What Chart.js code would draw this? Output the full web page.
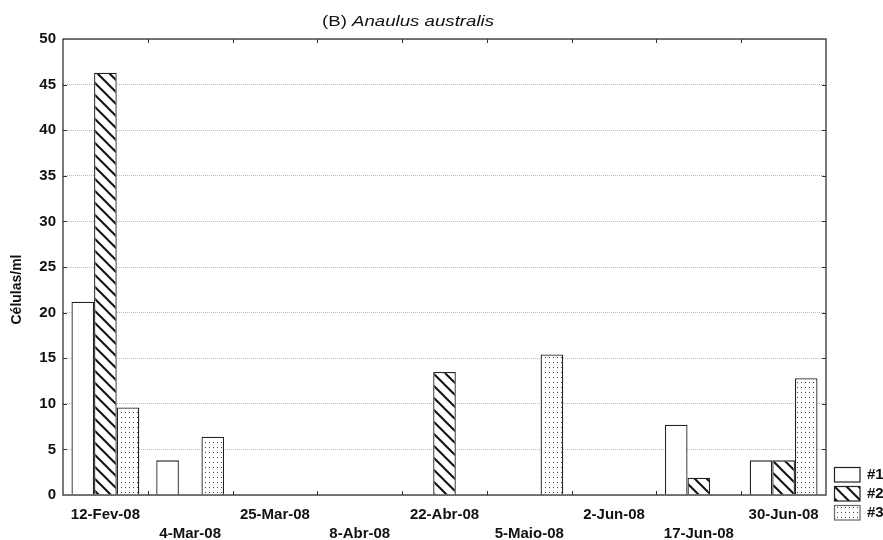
<!DOCTYPE html>
<html>
<head>
<meta charset="utf-8">
<script src="https://cdn.jsdelivr.net/npm/chart.js@4.4.0/dist/chart.umd.min.js"></script>
<style>
html,body{margin:0;padding:0;background:#fff;}
#wrap{width:883px;height:540px;position:relative;}
</style>
</head>
<body>
<div id="wrap"><canvas id="c" width="883" height="540"></canvas></div>
<script>
const categories = ['12-Fev-08','4-Mar-08','25-Mar-08','8-Abr-08','22-Abr-08','5-Maio-08','2-Jun-08','17-Jun-08','30-Jun-08'];
const series1 = [21.2, 3.8, 0, 0, 0, 0, 0, 7.7, 3.8];
const series2 = [46.3, 0, 0, 0, 13.5, 0, 0, 1.9, 3.8];
const series3 = [9.6, 6.4, 0, 0, 0, 15.4, 0, 0, 12.8];
const seriesNames = ['#1', '#2', '#3'];
const yTicks = [0, 5, 10, 15, 20, 25, 30, 35, 40, 45, 50];
const titlePrefix = '(B) ';
const titleSpecies = 'Anaulus australis';
const yTitle = 'Células/ml';

const FONT = '"Liberation Sans", Arial, Helvetica, sans-serif';

function hatchPattern() {
  const s = 12;
  const cv = document.createElement('canvas');
  cv.width = s; cv.height = s;
  const g = cv.getContext('2d');
  g.fillStyle = '#fff'; g.fillRect(0, 0, s, s);
  g.strokeStyle = '#111'; g.lineWidth = 2;
  g.beginPath();
  g.moveTo(-2, -2); g.lineTo(s + 2, s + 2);
  g.moveTo(-2, s - 2); g.lineTo(2, s + 2);
  g.moveTo(s - 2, -2); g.lineTo(s + 2, 2);
  g.stroke();
  return g.createPattern(cv, 'repeat');
}
function dotPattern() {
  const cv = document.createElement('canvas');
  cv.width = 4; cv.height = 5;
  const g = cv.getContext('2d');
  g.fillStyle = '#fff'; g.fillRect(0, 0, 4, 5);
  g.fillStyle = '#444'; g.fillRect(1, 2, 1, 1);
  return g.createPattern(cv, 'repeat');
}
const fills = ['#ffffff', hatchPattern(), dotPattern()];

const xLabels = categories.map((c, i) => i % 2 === 0 ? c : ['', c]);

const framePlugin = {
  id: 'frame',
  afterDatasetsDraw(chart) {
    const { ctx, chartArea: a, scales } = chart;
    const xs = scales.x, ys = scales.y;
    ctx.save();
    ctx.strokeStyle = '#333';
    ctx.lineWidth = 1.3;
    ctx.strokeRect(a.left, a.top, a.right - a.left, a.bottom - a.top);
    ctx.lineWidth = 1;
    ctx.beginPath();
    const n = categories.length;
    for (let i = 1; i < n; i++) {
      const x = Math.round((xs.getPixelForValue(i - 1) + xs.getPixelForValue(i)) / 2) + 0.5;
      ctx.moveTo(x, a.bottom); ctx.lineTo(x, a.bottom - 4);
      ctx.moveTo(x, a.top); ctx.lineTo(x, a.top + 4);
    }
    yTicks.forEach(v => {
      if (v === 0 || v === 50) return;
      const y = Math.round(ys.getPixelForValue(v)) + 0.5;
      ctx.moveTo(a.left, y); ctx.lineTo(a.left + 4, y);
      ctx.moveTo(a.right, y); ctx.lineTo(a.right - 4, y);
    });
    ctx.stroke();
    ctx.restore();
  },
  afterDraw(chart) {
    const { ctx } = chart;
    ctx.save();
    // title (stretched horizontally to match the reference width)
    ctx.fillStyle = '#111';
    ctx.textBaseline = 'alphabetic';
    ctx.font = '14px ' + FONT;
    const w1 = ctx.measureText(titlePrefix).width;
    ctx.font = 'italic 14px ' + FONT;
    const w2 = ctx.measureText(titleSpecies).width;
    const targetW = 172;
    const sx = Math.min(1.35, Math.max(1, targetW / (w1 + w2)));
    ctx.save();
    ctx.translate(408 - targetW / 2, 25.5);
    ctx.scale(sx, 1);
    ctx.font = '14px ' + FONT;
    ctx.fillText(titlePrefix, 0, 0);
    ctx.font = 'italic 14px ' + FONT;
    ctx.fillText(titleSpecies, w1, 0);
    ctx.restore();
    // y title
    ctx.save();
    ctx.translate(17, 289.5);
    ctx.rotate(-Math.PI / 2);
    ctx.font = 'bold 14px ' + FONT;
    ctx.textAlign = 'center';
    ctx.textBaseline = 'middle';
    ctx.fillText(yTitle, 0, 0);
    ctx.restore();
    // legend
    chart.data.datasets.forEach((ds, i) => {
      const top = 467 + i * 19;
      ctx.fillStyle = ds.backgroundColor;
      ctx.fillRect(834, top, 26, 15);
      ctx.strokeStyle = i === 2 ? '#666' : '#222';
      ctx.lineWidth = 1.2;
      ctx.strokeRect(834.5, top + 0.5, 25.5, 14.5);
      ctx.fillStyle = '#111';
      ctx.font = 'bold 15px ' + FONT;
      ctx.textAlign = 'left';
      ctx.textBaseline = 'middle';
      ctx.fillText(ds.label, 867, top + 8);
    });
    ctx.restore();
  }
};

new Chart(document.getElementById('c'), {
  type: 'bar',
  data: {
    labels: xLabels,
    datasets: [series1, series2, series3].map((d, i) => ({
      label: seriesNames[i],
      data: d,
      backgroundColor: fills[i],
      borderColor: '#222',
      borderWidth: 1.3,
      categoryPercentage: 0.8,
      barPercentage: 1.0
    }))
  },
  options: {
    responsive: false,
    animation: false,
    devicePixelRatio: 1,
    layout: { padding: { top: 39, right: 57, left: 0, bottom: 0 } },
    plugins: {
      legend: { display: false },
      title: { display: false },
      tooltip: { enabled: false }
    },
    scales: {
      x: {
        offset: true,
        grid: { display: false, drawTicks: false },
        border: { display: false },
        ticks: {
          autoSkip: false, maxRotation: 0, minRotation: 0,
          color: '#111',
          padding: 10,
          font: { family: FONT, size: 15, weight: 'bold', lineHeight: 1.27 }
        },
        afterFit(s) { s.height = 45; }
      },
      y: {
        min: 0, max: 50,
        afterBuildTicks(s) { s.ticks = yTicks.map(v => ({ value: v })); },
        grid: { color: '#bdbdbd', lineWidth: 1, drawTicks: false },
        border: { display: false, dash: [1, 1] },
        ticks: {
          color: '#111',
          padding: 7,
          font: { family: FONT, size: 15, weight: 'bold' }
        },
        afterFit(s) { s.width = 63; }
      }
    }
  },
  plugins: [framePlugin]
});
</script>
</body>
</html>
